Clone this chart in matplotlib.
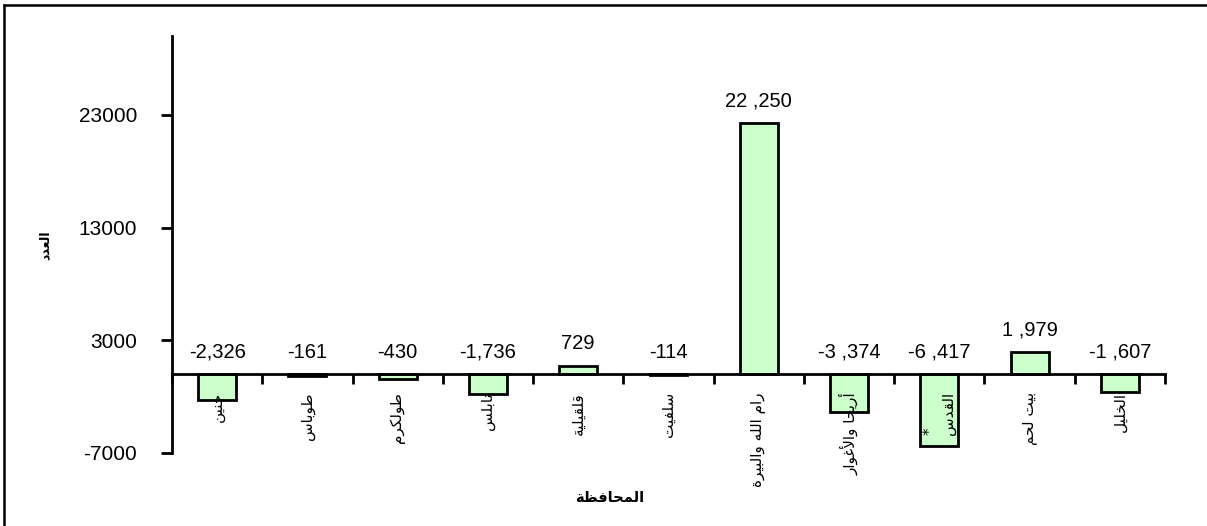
import matplotlib
matplotlib.use("Agg")
import matplotlib.pyplot as plt
from matplotlib.lines import Line2D
import numpy as np

# the star of Jerusalem sits on its own line, left of the name once rotated
governorates = [
    "جنين", "طوباس", "طولكرم", "نابلس", "قلقيلية", "سلفيت",
    "رام الله والبيرة", "أريحا والأغوار", "*\nالقدس", "بيت لحم", "الخليل",
]
values = [-2326, -161, -430, -1736, 729, -114, 22250, -3374, -6417, 1979, -1607]
value_labels = [
    "-2,326", "-161", "-430", "-1,736", "729", "-114",
    "22 ,250", "-3 ,374", "-6 ,417", "1 ,979", "-1 ,607",
]
y_ticks = [-7000, 3000, 13000, 23000]
x_title = "المحافظة"
y_title = "العدد"

# matplotlib has no arabic shaping, so map letters to presentation forms by hand
# (base code point in Presentation Forms-B, does the letter join to the next one)
FORMS = {
    "ا": (0xFE8D, False), "أ": (0xFE83, False), "ب": (0xFE8F, True), "ة": (0xFE93, False),
    "ت": (0xFE95, True), "ج": (0xFE9D, True), "ح": (0xFEA1, True), "خ": (0xFEA5, True),
    "د": (0xFEA9, False), "ر": (0xFEAD, False), "س": (0xFEB1, True), "ط": (0xFEC1, True),
    "ظ": (0xFEC5, True), "ع": (0xFEC9, True), "غ": (0xFECD, True), "ف": (0xFED1, True),
    "ق": (0xFED5, True), "ك": (0xFED9, True), "ل": (0xFEDD, True), "م": (0xFEE1, True),
    "ن": (0xFEE5, True), "ه": (0xFEE9, True), "و": (0xFEED, False), "ي": (0xFEF1, True),
}
LAM_ALEF = {"ا": 0xFEFB, "أ": 0xFEF7}


def shape_line(text):
    out = []
    prev_joins = False
    i = 0
    while i < len(text):
        c = text[i]
        nxt = text[i + 1] if i + 1 < len(text) else ""
        if c == "ل" and nxt in LAM_ALEF:
            out.append(chr(LAM_ALEF[nxt] + (1 if prev_joins else 0)))
            prev_joins = False
            i += 2
            continue
        if c not in FORMS:
            out.append(c)
            prev_joins = False
            i += 1
            continue
        base, dual = FORMS[c]
        next_joins = dual and nxt in FORMS
        if prev_joins and next_joins:
            form = 3
        elif prev_joins:
            form = 1
        elif next_joins:
            form = 2
        else:
            form = 0
        out.append(chr(base + form))
        prev_joins = dual
        i += 1
    return "".join(reversed(out))


def shape(text):
    return "\n".join(shape_line(line) for line in text.split("\n"))


fig = plt.figure(figsize=(12.07, 5.26), dpi=100)
ax = fig.add_axes([172 / 1207, 1 - 453 / 526, (1165 - 172) / 1207, (453 - 36) / 526])

x = np.arange(len(values))
ax.bar(x, values, width=0.42, color="#ccffcc", edgecolor="black", linewidth=2, zorder=1)

for xi, v, lab in zip(x, values, value_labels):
    ax.annotate(lab, (xi, max(v, 0)), xytext=(0, 9), textcoords="offset points",
                ha="center", va="bottom", fontsize=14.5, family="Liberation Sans")

ax.set_xlim(-0.5, len(values) - 0.5)
ax.set_ylim(-7000, 30000)

for side in ["top", "right"]:
    ax.spines[side].set_visible(False)
ax.spines["bottom"].set_position(("data", 0))
ax.spines["bottom"].set_linewidth(2)
ax.spines["left"].set_linewidth(2)

ax.set_yticks(y_ticks)
ax.set_yticklabels([str(t) for t in y_ticks], family="Liberation Sans", fontsize=15)
ax.tick_params(axis="y", length=8, width=2, pad=17)

ax.set_xticks(x)
ax.set_xticklabels([shape(g) for g in governorates], rotation=90, fontsize=11,
                   family="DejaVu Sans", va="top", ha="center")
for lab in ax.get_xticklabels():
    lab.set_multialignment("left")
ax.set_xticks(np.arange(len(values) + 1) - 0.5, minor=True)
ax.tick_params(axis="x", which="major", length=0, pad=13)
ax.tick_params(axis="x", which="minor", length=7, width=2, direction="out")

fig.text(610 / 1207, 1 - 497 / 526, shape(x_title), ha="center", va="center",
         fontsize=10.5, fontweight="bold", family="DejaVu Sans")
fig.text(45 / 1207, 1 - 245 / 526, shape(y_title), ha="center", va="center",
         rotation=90, fontsize=9, fontweight="bold", family="DejaVu Sans")

# outer frame, only the top and left edges fall inside the picture
fig.add_artist(Line2D([4 / 1207, 1], [1 - 5 / 526, 1 - 5 / 526], color="black", lw=1.8))
fig.add_artist(Line2D([4 / 1207, 4 / 1207], [0, 1 - 5 / 526], color="black", lw=1.8))

fig.savefig("out.png", dpi=100)
